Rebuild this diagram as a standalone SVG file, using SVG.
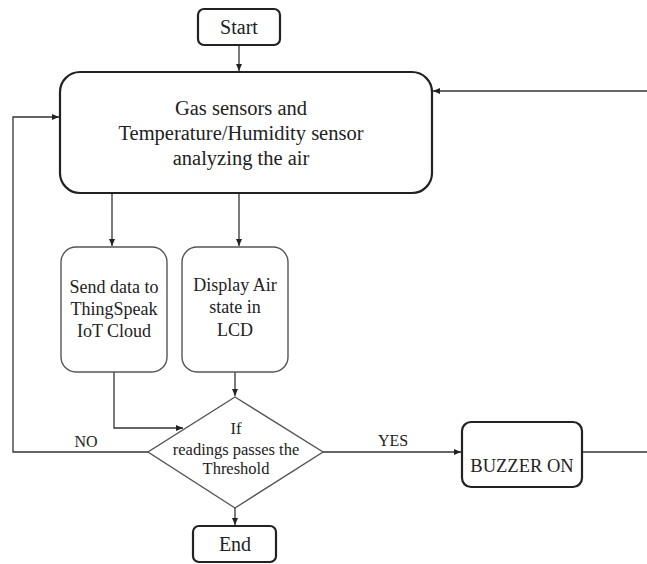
<svg xmlns="http://www.w3.org/2000/svg" width="647" height="564" viewBox="0 0 647 564">
<style>
text{fill:#222;text-anchor:middle}
.bold{fill:#fff;stroke:#222;stroke-width:2.2}
.thin{fill:#fff;stroke:#555;stroke-width:1.4}
.conn{fill:none;stroke:#333;stroke-width:1.3}
</style>
<defs>
<marker id="ah" markerWidth="8" markerHeight="8" refX="7" refY="4" orient="auto" markerUnits="userSpaceOnUse">
<path d="M0,1 L7,4 L0,7 Z" fill="#222"/>
</marker>
</defs>
<g font-family="'Liberation Serif', Tinos, 'DejaVu Serif', 'Noto Serif', serif">
<g id="connectors">
<path class="conn" d="M239,45 V71" marker-end="url(#ah)"/>
<path class="conn" d="M647,91 H433" marker-end="url(#ah)"/>
<path class="conn" d="M148,452 H13 V117 H59" marker-end="url(#ah)"/>
<path class="conn" d="M112,193 V246" marker-end="url(#ah)"/>
<path class="conn" d="M239,193 V246" marker-end="url(#ah)"/>
<path class="conn" d="M114,372 V428 H183" marker-end="url(#ah)"/>
<path class="conn" d="M235,372 V396" marker-end="url(#ah)"/>
<path class="conn" d="M323,452 H461" marker-end="url(#ah)"/>
<path class="conn" d="M583,452 H647"/>
<path class="conn" d="M235,508 V525" marker-end="url(#ah)"/>
<text x="86" y="447" font-size="16">NO</text>
<text x="393" y="446" font-size="16">YES</text>
</g>
<g id="start">
<rect class="bold" x="198" y="9" width="82" height="36" rx="6"/>
<text x="239" y="34" font-size="20">Start</text>
</g>
<g id="sensors">
<rect class="bold" x="60" y="72" width="372" height="121" rx="20"/>
<text x="241" y="115" font-size="20.5">Gas sensors and</text>
<text x="241" y="140" font-size="20.5">Temperature/Humidity sensor</text>
<text x="241" y="165" font-size="20.5">analyzing the air</text>
</g>
<g id="send">
<rect class="thin" x="61" y="247" width="106" height="125" rx="15"/>
<text x="114" y="293" font-size="18">Send data to</text>
<text x="114" y="315" font-size="18">ThingSpeak</text>
<text x="114" y="337" font-size="18">IoT Cloud</text>
</g>
<g id="display">
<rect class="thin" x="182" y="247" width="106" height="125" rx="15"/>
<text x="235" y="291" font-size="18">Display Air</text>
<text x="235" y="313" font-size="18">state in</text>
<text x="235" y="336" font-size="18">LCD</text>
</g>
<g id="decision">
<polygon class="thin" points="235,397 323,452 235,508 148,452"/>
<text x="236" y="434" font-size="16.5">If</text>
<text x="236" y="455" font-size="16.5">readings passes the</text>
<text x="236" y="474" font-size="16.5">Threshold</text>
</g>
<g id="buzzer">
<rect class="bold" x="462" y="422" width="120" height="65" rx="9"/>
<text x="522" y="472" font-size="18.5">BUZZER ON</text>
</g>
<g id="end">
<rect class="bold" x="193" y="526" width="83" height="36" rx="6"/>
<text x="235" y="551" font-size="20">End</text>
</g>
</g>
</svg>
